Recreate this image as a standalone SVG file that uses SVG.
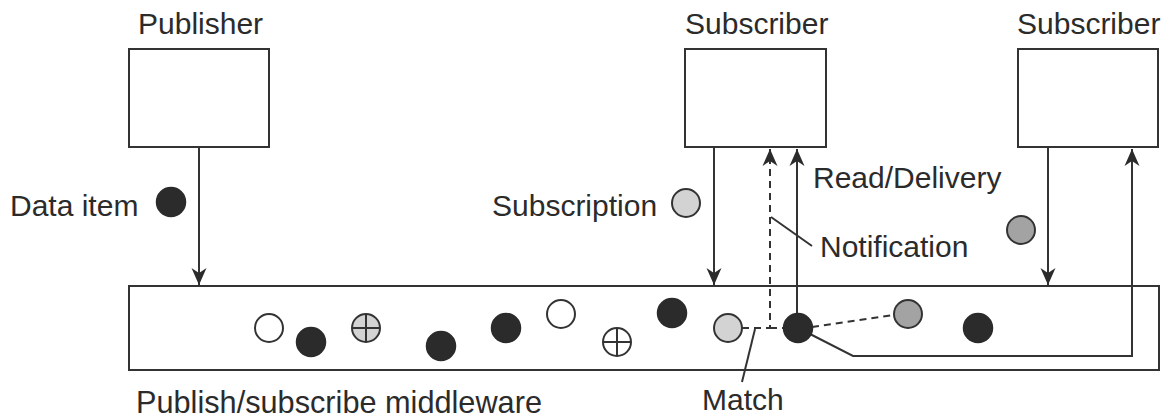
<svg xmlns="http://www.w3.org/2000/svg" width="1169" height="418" viewBox="0 0 1169 418">
<defs>
<marker id="ah" markerWidth="20" markerHeight="16" viewBox="-18 -8 20 16" refX="0" refY="0" orient="auto" markerUnits="userSpaceOnUse">
<path d="M0,0 L-17,-7.5 L-12,0 L-17,7.5 Z" fill="#2b2b2b"/>
</marker>
</defs>
<style>
text{font-family:"Liberation Sans",Arial,sans-serif;font-size:30px;fill:#2b2b2b}
.box{fill:#fff;stroke:#333;stroke-width:2}
.ln{fill:none;stroke:#333;stroke-width:2}
.dash{fill:none;stroke:#333;stroke-width:2;stroke-dasharray:7,5}
.blk{fill:#2b2b2b;stroke:#2b2b2b;stroke-width:1.5}
.wht{fill:#fff;stroke:#333;stroke-width:2}
.lg{fill:#d3d3d3;stroke:#333;stroke-width:2}
.dg{fill:#a3a3a3;stroke:#333;stroke-width:2}
</style>
<rect width="1169" height="418" fill="#fff"/>

<g id="middleware">
<rect class="box" x="129" y="286" width="1030" height="84"/>
<text x="136" y="413" style="font-size:30.7px">Publish/subscribe middleware</text>
</g>

<g id="publisher">
<rect class="box" x="129" y="49" width="140" height="98"/>
<text x="138" y="34">Publisher</text>
</g>

<g id="subscriber1">
<rect class="box" x="685" y="49" width="141" height="98"/>
<text x="685" y="34">Subscriber</text>
</g>

<g id="subscriber2">
<rect class="box" x="1018" y="49" width="140" height="98"/>
<text x="1017" y="34">Subscriber</text>
</g>

<g id="connectors">
<line class="ln" x1="199" y1="147" x2="199" y2="285" marker-end="url(#ah)"/>
<line class="ln" x1="714" y1="147" x2="714" y2="285" marker-end="url(#ah)"/>
<line class="ln" x1="1048" y1="147" x2="1048" y2="285" marker-end="url(#ah)"/>
<polyline class="dash" points="742,328 770,328 770,149" marker-end="url(#ah)"/>
<line class="dash" x1="770" y1="328" x2="783" y2="328"/>
<line class="ln" x1="797" y1="314" x2="797" y2="149" marker-end="url(#ah)"/>
<line class="dash" x1="812" y1="327" x2="894" y2="315"/>
<polyline class="ln" points="810,334 853,356 1132,356 1132,149" marker-end="url(#ah)"/>
<line class="ln" x1="771" y1="217" x2="812" y2="246"/>
<line class="ln" x1="755" y1="329" x2="742" y2="382"/>
</g>

<g id="labels">
<text x="10" y="216">Data item</text>
<circle class="blk" cx="171" cy="202" r="14.5"/>
<text x="492" y="216">Subscription</text>
<circle class="lg" cx="686" cy="203" r="14"/>
<text x="813" y="188">Read/Delivery</text>
<text x="820" y="257">Notification</text>
<circle class="dg" cx="1021" cy="230" r="14"/>
<text x="702" y="410">Match</text>
</g>

<g id="items">
<circle class="wht" cx="269" cy="328" r="14"/>
<circle class="blk" cx="311" cy="342" r="14.5"/>
<g>
<circle class="lg" cx="366" cy="328" r="14"/>
<path class="ln" d="M352,328 H380 M366,314 V342"/>
</g>
<circle class="blk" cx="441" cy="346" r="14.5"/>
<circle class="blk" cx="506" cy="328" r="14.5"/>
<circle class="wht" cx="561" cy="314" r="14"/>
<g>
<circle class="wht" cx="617" cy="342" r="14"/>
<path class="ln" d="M603,342 H631 M617,328 V356"/>
</g>
<circle class="blk" cx="672" cy="313" r="14.5"/>
<circle class="lg" cx="728" cy="328" r="14"/>
<circle class="blk" cx="798" cy="328" r="14.5"/>
<circle class="dg" cx="908" cy="314" r="14"/>
<circle class="blk" cx="978" cy="328" r="14.5"/>
</g>
</svg>
